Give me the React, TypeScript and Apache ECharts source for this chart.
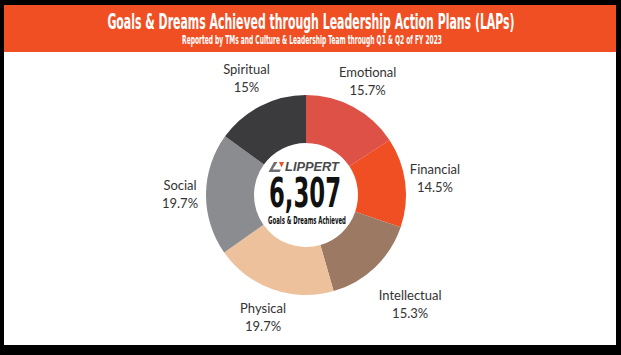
import React, { useEffect, useRef } from "react";
import * as echarts from "echarts";

const categories = ["Emotional", "Financial", "Intellectual", "Physical", "Social", "Spiritual"];
const shares = [15.7, 14.5, 15.3, 19.7, 19.7, 15];
const sliceColors = ["#de5147", "#ef4f23", "#9b7963", "#ecc19b", "#8b8c8f", "#3b3a3c"];
const labelRadius = [130, 130, 151, 129, 126, 131];

const titleText = "Goals & Dreams Achieved through Leadership Action Plans (LAPs)";
const subtitleText = "Reported by TMs and Culture & Leadership Team through Q1 & Q2 of FY 2023";
const totalText = "6,307";
const totalCaption = "Goals & Dreams Achieved";
const brandText = "LIPPERT";

const W = 621;
const H = 355;
const CX = 306;
const CY = 195;
const R_IN = 52;
const R_OUT = 100;

const CONDENSED = '"DejaVu Sans Condensed", "Liberation Sans", Arial, sans-serif';

function fitScale(text: string, font: string, target: number): number {
  const c = document.createElement("canvas").getContext("2d");
  if (!c) return 1;
  c.font = font;
  const w = c.measureText(text).width;
  return w > 0 ? target / w : 1;
}

export default function App() {
  const ref = useRef<HTMLDivElement>(null);
  useEffect(() => {
    document.body.style.margin = "0";
    if (!ref.current) return;
    const chart = echarts.init(ref.current, null, { renderer: "svg" });
    const total = shares.reduce((a, b) => a + b, 0);
    const mids: number[] = [];
    let acc = 0;
    shares.forEach((v) => {
      mids.push(((acc + v / 2) / total) * Math.PI * 2);
      acc += v;
    });

    const titleFont = `bold 21px ${CONDENSED}`;
    const subFont = `bold 12px ${CONDENSED}`;
    const numFont = `bold 40px ${CONDENSED}`;
    const capFont = `bold 10px ${CONDENSED}`;
    const brandFont = 'italic bold 12px "Liberation Sans", Arial, sans-serif';

    const sText = (
      text: string,
      font: string,
      x: number,
      y: number,
      width: number,
      fill: string
    ) => ({
      type: "text",
      x,
      y,
      scaleX: fitScale(text, font, width),
      z: 10,
      style: {
        text,
        x: 0,
        y: 0,
        font,
        fill,
        align: "center",
        verticalAlign: "middle",
      },
    });

    chart.setOption({
      animation: false,
      backgroundColor: "#000000",
      graphic: [
        { type: "rect", shape: { x: 4, y: 5, width: 612, height: 340 }, style: { fill: "#ffffff" }, z: 0 },
        { type: "rect", shape: { x: 4, y: 5, width: 612, height: 47 }, style: { fill: "#f04e23" }, z: 1 },
        sText(titleText, titleFont, 311, 22, 408, "#ffffff"),
        sText(subtitleText, subFont, 312, 40, 260, "#ffffff"),
        sText(totalText, numFont, 305, 193, 72, "#111111"),
        sText(totalCaption, capFont, 307, 220, 78, "#111111"),
        sText(brandText, brandFont, 312, 167, 54, "#4a4a4a"),
        {
          type: "polygon",
          z: 10,
          shape: { points: [[274, 162], [277.5, 162], [272.5, 169.5], [281, 169.5], [279.5, 172], [268.5, 172]] },
          style: { fill: "#6d6e70" },
        },
        {
          type: "polygon",
          z: 10,
          shape: { points: [[279, 162], [284, 162], [281.5, 167.5]] },
          style: { fill: "#ef4f23" },
        },
      ],
      series: [
        {
          type: "pie",
          center: [CX, CY],
          radius: [R_IN, R_OUT],
          startAngle: 90,
          clockwise: true,
          data: categories.map((name, i) => ({
            name,
            value: shares[i],
            itemStyle: { color: sliceColors[i] },
          })),
          label: {
            show: true,
            position: "outside",
            formatter: (p: any) => `${p.name}\n${p.value}%`,
            fontFamily: "Lato",
            fontSize: 13,
            lineHeight: 18,
            color: "#333333",
            align: "center",
          },
          labelLine: { show: false },
          labelLayout: (p: any) => {
            const i = p.dataIndex;
            const a = mids[i];
            const r = labelRadius[i];
            return {
              x: CX + r * Math.sin(a),
              y: CY - r * Math.cos(a),
              align: "center",
              verticalAlign: "middle",
            };
          },
          emphasis: { disabled: true },
        },
      ],
    });
    return () => chart.dispose();
  }, []);
  return <div ref={ref} style={{ width: W, height: H }} />;
}
